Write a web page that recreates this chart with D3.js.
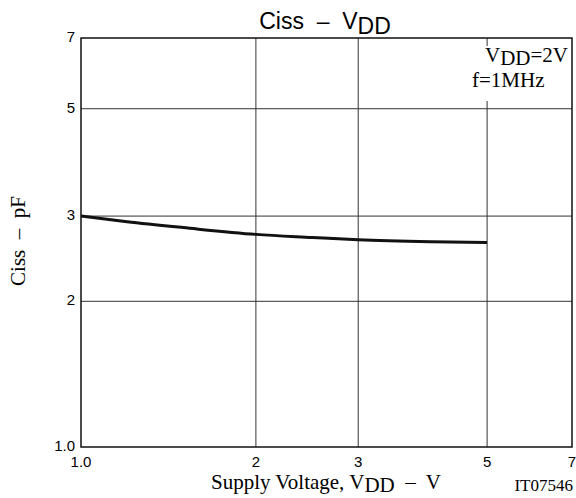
<!DOCTYPE html>
<html><head><meta charset="utf-8">
<script src="https://cdn.jsdelivr.net/npm/d3@7"></script>
<style>body{margin:0;background:#fff}svg{display:block}text{white-space:pre}</style>
</head><body>
<script>
const vdd = [1.0, 1.2, 1.5, 2.0, 2.5, 3.0, 4.0, 5.0];
const ciss = [3.0, 2.92, 2.84, 2.75, 2.71, 2.68, 2.655, 2.645];
const xTicks = [1, 2, 3, 5, 7];
const xTickLabels = ["1.0", "2", "3", "5", "7"];
const yTicks = [1, 2, 3, 5, 7];
const yTickLabels = ["1.0", "2", "3", "5", "7"];

const W = 576, H = 498;
const m = {l: 81, r: 4, t: 38, b: 51};
const svg = d3.select("body").append("svg").attr("width", W).attr("height", H);
const x = d3.scaleLog().domain([1, 7]).range([m.l, W - m.r]);
const y = d3.scaleLog().domain([1, 7]).range([H - m.b, m.t]);
const sans = "'Liberation Sans', Arial, sans-serif";
const serif = "'Liberation Serif', 'Times New Roman', serif";

// grid
svg.append("g").selectAll("line").data(xTicks.slice(1, -1)).join("line")
  .attr("x1", d => x(d)).attr("x2", d => x(d)).attr("y1", y(7)).attr("y2", y(1))
  .attr("stroke", "#333").attr("stroke-width", 1);
svg.append("g").selectAll("line").data(yTicks.slice(1, -1)).join("line")
  .attr("y1", d => y(d)).attr("y2", d => y(d)).attr("x1", x(1)).attr("x2", x(7))
  .attr("stroke", "#333").attr("stroke-width", 1);

// legend box background
svg.append("rect").attr("x", 468).attr("y", 46).attr("width", 102).attr("height", 55).attr("fill", "#fff");

// curve
const line = d3.line().x((d, i) => x(vdd[i])).y(d => y(d)).curve(d3.curveMonotoneX);
svg.append("path").datum(ciss).attr("d", line).attr("fill", "none")
  .attr("stroke", "#111").attr("stroke-width", 3);

// frame
svg.append("rect").attr("x", x(1)).attr("y", y(7)).attr("width", x(7) - x(1)).attr("height", y(1) - y(7))
  .attr("fill", "none").attr("stroke", "#111").attr("stroke-width", 1.5);

// tick labels
svg.append("g").selectAll("text").data(xTicks).join("text")
  .attr("x", d => x(d)).attr("y", H - m.b + 20).attr("text-anchor", "middle")
  .attr("font-family", sans).attr("font-size", 15).text((d, i) => xTickLabels[i]);
svg.append("g").selectAll("text").data(yTicks).join("text")
  .attr("x", m.l - 6).attr("y", d => y(d) + 4).attr("text-anchor", "end")
  .attr("font-family", sans).attr("font-size", 15).text((d, i) => yTickLabels[i]);

// title
const t = svg.append("text").attr("x", 325).attr("y", 29).attr("text-anchor", "middle")
  .attr("font-family", sans).attr("font-size", 23);
t.append("tspan").text("Ciss  \u2013  V");
t.append("tspan").attr("dy", 5).text("DD");

// x label
const xl = svg.append("text").attr("x", 326).attr("y", 489).attr("text-anchor", "middle")
  .attr("font-family", serif).attr("font-size", 21);
xl.append("tspan").text("Supply Voltage, V");
xl.append("tspan").attr("dy", 3).text("DD");
xl.append("tspan").attr("dy", -3).text("  \u2013  V");

svg.append("text").attr("x", 573).attr("y", 491).attr("text-anchor", "end")
  .attr("font-family", serif).attr("font-size", 17).text("IT07546");

// y label
svg.append("text").attr("transform", "translate(25,241) rotate(-90)").attr("text-anchor", "middle")
  .attr("font-family", serif).attr("font-size", 21).text("Ciss  \u2013  pF");

// legend
const l1 = svg.append("text").attr("x", 568).attr("y", 62).attr("text-anchor", "end")
  .attr("font-family", serif).attr("font-size", 21);
l1.append("tspan").text("V");
l1.append("tspan").attr("dy", 3).text("DD");
l1.append("tspan").attr("dy", -3).text("=2V");
svg.append("text").attr("x", 472).attr("y", 87).attr("text-anchor", "start")
  .attr("font-family", serif).attr("font-size", 21).text("f=1MHz");
</script>
</body></html>
